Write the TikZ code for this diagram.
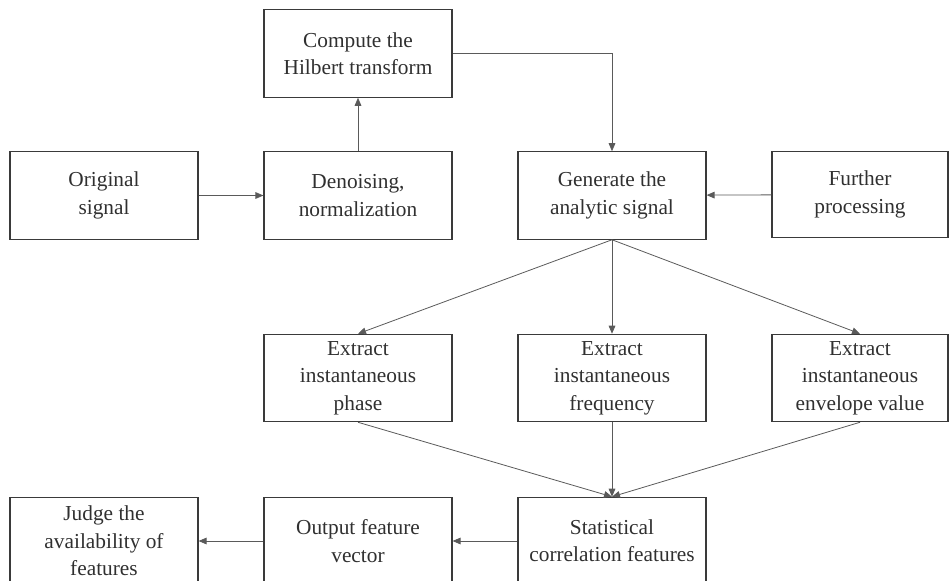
\documentclass[tikz,border=0pt]{standalone}
\usepackage{fontspec}
\setmainfont{Liberation Serif}
\usetikzlibrary{arrows.meta}
\definecolor{boxline}{HTML}{3A3A3A}
\definecolor{arrowline}{HTML}{5A5A5A}
\definecolor{boxtext}{HTML}{303030}

\begin{document}
\begin{tikzpicture}[x=0.75pt,y=-0.75pt,
    stepbox/.style={draw=boxline, line width=0.9pt, text=boxtext, minimum width=141pt,
        minimum height=65.5pt, inner sep=0pt, align=center,
        font=\fontsize{16}{20.5}\selectfont},
    flow/.style={draw=arrowline, line width=0.6pt, -{Triangle[length=6pt,width=5pt]}}]
    % Page frame
    \clip (0,0) rectangle (949,581);

    % Top rows
    \node[stepbox] (hilbert) at (358,53.5) {Compute the\\Hilbert transform};
    \node[stepbox] (orig) at (104,195.5) {Original\\signal};
    \node[stepbox] (denoise) at (358,195.5) {Denoising,\\normalization};
    \node[stepbox] (analytic) at (612,195.5) {Generate the\\analytic signal};
    \node[stepbox, minimum width=132pt, minimum height=64pt] (further) at (860,194.5) {Further\\processing};

    % Extraction row
    \node[stepbox] (phase) at (358,378) {Extract\\instantaneous\\phase};
    \node[stepbox] (freq) at (612,378) {Extract\\instantaneous\\frequency};
    \node[stepbox, minimum width=132pt] (envelope) at (860,378) {Extract\\instantaneous\\envelope value};

    % Bottom row (cut off by the page)
    \node[stepbox] (judge) at (104,541) {Judge the\\availability of\\features};
    \node[stepbox] (output) at (358,541) {Output feature\\vector};
    \node[stepbox] (stats) at (612,541) {Statistical\\correlation features};

    % Connections
    \draw[flow] (orig) -- (denoise);
    \draw[flow] (denoise) -- (hilbert);
    \draw[flow] (hilbert.east) -| (analytic.north);
    \draw[flow] (further) -- (analytic);
    \draw[flow] (analytic.south) -- (phase.north);
    \draw[flow] (analytic.south) -- (freq.north);
    \draw[flow] (analytic.south) -- (envelope.north);
    \draw[flow] (phase.south) -- (stats.north);
    \draw[flow] (freq.south) -- (stats.north);
    \draw[flow] (envelope.south) -- (stats.north);
    \draw[flow] (stats) -- (output);
    \draw[flow] (output) -- (judge);
\end{tikzpicture}
\end{document}
